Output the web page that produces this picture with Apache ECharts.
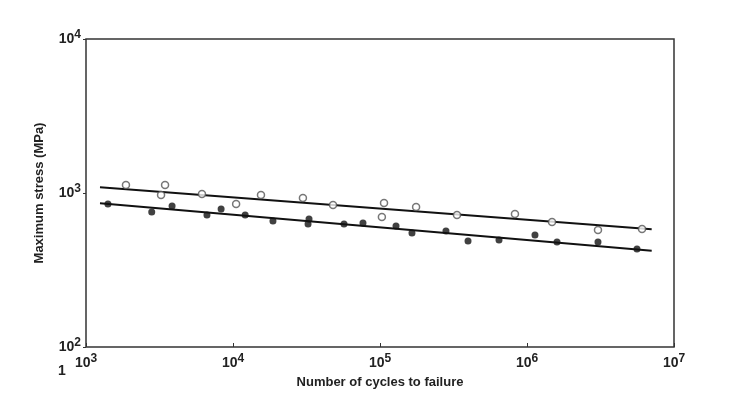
<!DOCTYPE html>
<html>
<head>
<meta charset="utf-8">
<script src="https://cdn.jsdelivr.net/npm/echarts@6/dist/echarts.min.js"></script>
<style>html,body{margin:0;padding:0;background:#fff;}#c{width:729px;height:394px;}</style>
</head>
<body>
<div id="c"></div>
<script>
// Open circles (upper series): [cycles, stress MPa]
const openCycles = [1870, 3450, 3240, 6150, 10500, 15500, 29900, 47900, 103000, 106500, 176000, 334000, 828000, 1480000, 3040000, 6060000];
const openStress = [1127, 1127, 970, 985, 848, 970, 928, 836, 698, 861, 811, 720, 730, 648, 575, 584];
// Filled circles (lower series)
const filledCycles = [1410, 2800, 3850, 6650, 8300, 12100, 18700, 32900, 32400, 56900, 76600, 128500, 165000, 281000, 397000, 645000, 1133000, 1600000, 3040000, 5600000];
const filledStress = [848, 753, 823, 720, 787, 720, 658, 678, 629, 629, 638, 611, 550, 566, 488, 495, 534, 481, 481, 433];
// Fitted lines
const upperLineCycles = [1245, 7050000];
const upperLineStress = [1089, 581];
const lowerLineCycles = [1245, 7050000];
const lowerLineStress = [857, 422];

const zip = (a, b) => a.map((v, i) => [v, b[i]]);
const font = 'Liberation Sans, Arial, sans-serif';
const fmt = v => '{b|10}{s|' + Math.round(Math.log10(v)) + '}';
const rich = {
  b: {fontSize: 14, fontWeight: 'bold', fontFamily: font, color: '#222'},
  s: {fontSize: 12, fontWeight: 'bold', fontFamily: font, color: '#222', padding: [0, 0, 9, 0]}
};

const chart = echarts.init(document.getElementById('c'));
chart.setOption({
  animation: false,
  backgroundColor: '#fff',
  grid: {left: 86, right: 55, top: 39, bottom: 47, show: true, borderColor: '#333', borderWidth: 1.5, backgroundColor: 'transparent'},
  xAxis: {
    type: 'log', logBase: 10, min: 1000, max: 10000000,
    name: 'Number of cycles to failure', nameLocation: 'middle', nameGap: 29,
    nameTextStyle: {fontFamily: font, fontSize: 13, fontWeight: 'bold', color: '#222'},
    axisLine: {show: false},
    axisTick: {show: true, inside: true, length: 4, lineStyle: {color: '#333'}},
    minorTick: {show: false},
    splitLine: {show: false},
    axisLabel: {formatter: fmt, rich: rich, margin: 6}
  },
  yAxis: {
    type: 'log', logBase: 10, min: 100, max: 10000,
    name: 'Maximum stress (MPa)', nameLocation: 'middle', nameGap: 40, nameRotate: 90,
    nameTextStyle: {fontFamily: font, fontSize: 13, fontWeight: 'bold', color: '#222'},
    axisLine: {show: false},
    axisTick: {show: true, inside: false, length: 3, lineStyle: {color: '#333'}},
    splitLine: {show: false},
    axisLabel: {formatter: fmt, rich: rich, margin: 5}
  },
  graphic: [
    {type: 'text', left: 58, top: 364, style: {text: '1', font: 'bold 14px Liberation Sans, Arial, sans-serif', fill: '#222'}}
  ],
  series: [
    {type: 'line', data: zip(upperLineCycles, upperLineStress), symbol: 'none', lineStyle: {color: '#111', width: 2}, z: 2},
    {type: 'line', data: zip(lowerLineCycles, lowerLineStress), symbol: 'none', lineStyle: {color: '#111', width: 2}, z: 2},
    {type: 'scatter', data: zip(openCycles, openStress), symbol: 'circle', symbolSize: 7,
      itemStyle: {color: '#fff', borderColor: '#555', borderWidth: 1.5}, z: 3},
    {type: 'scatter', data: zip(filledCycles, filledStress), symbol: 'circle', symbolSize: 7,
      itemStyle: {color: '#111'}, z: 3}
  ]
});
</script>
</body>
</html>
